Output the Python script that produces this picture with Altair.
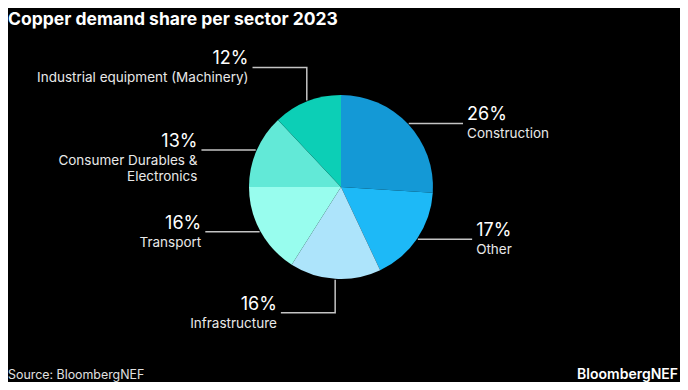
import math
import altair as alt
import pandas as pd

# ---- data ----
sectors = ["Construction", "Other", "Infrastructure", "Transport",
           "Consumer Durables & Electronics", "Industrial equipment (Machinery)"]
category_labels = ["Construction", "Other", "Infrastructure", "Transport",
                   "Consumer Durables &\nElectronics", "Industrial equipment (Machinery)"]
shares = [26, 17, 16, 16, 13, 12]
colors = ["#1499d6", "#1db9f7", "#ade4fb", "#98fdee", "#62e9d7", "#0ccfb6"]

title_text = "Copper demand share per sector 2023"
source_text = "Source: BloombergNEF"
brand_text = "BloombergNEF"

# ---- layout (pixels) ----
W, H = 672, 374
R = 92              # pie radius, px
CX, CY = 333, 179   # pie centre, px
EDGE = 1.01         # leader start, in radii
HLEN = 0.59         # horizontal leader length, in radii
VLEN = 0.36         # vertical leader length (near-vertical slices), in radii

xs = alt.Scale(domain=[-CX / R, (W - CX) / R], nice=False, zero=False)
ys = alt.Scale(domain=[-(H - CY) / R, CY / R], nice=False, zero=False)

pie_df = pd.DataFrame({"sector": sectors, "share": shares, "idx": list(range(len(sectors)))})

# leader lines from mid-angle of each slice
line_rows, lab_rows = [], []
total = sum(shares)
cum = 0
for s, lab, v in zip(sectors, category_labels, shares):
    mid = (cum + v / 2) / total * 2 * math.pi
    cum += v
    sx, sy = math.sin(mid), math.cos(mid)
    x0, y0 = EDGE * sx, EDGE * sy
    pts = [(x0, y0)]
    side = 1 if sx >= 0 else -1
    if abs(sx) < 0.5:
        y1 = y0 + (VLEN if sy > 0 else -VLEN)
        pts.append((x0, y1))
        y0 = y1
    x_end = x0 + side * HLEN
    pts.append((x_end, y0))
    for i, (px, py) in enumerate(pts):
        line_rows.append({"sector": s, "step": i, "x": px, "y": py})
    lab_rows.append({"sector": s, "pct": f"{v}%", "cat": lab, "x": x_end, "y": y0,
                     "side": "right" if side > 0 else "left"})

lines_df = pd.DataFrame(line_rows)
labels_df = pd.DataFrame(lab_rows)

pie = alt.Chart(pie_df).mark_arc(outerRadius=R).encode(
    theta=alt.Theta("share:Q", stack=True),
    order=alt.Order("idx:Q", sort="ascending"),
    color=alt.Color("sector:N", scale=alt.Scale(domain=sectors, range=colors), legend=None),
    x=alt.value(CX), y=alt.value(CY),
)

leaders = alt.Chart(lines_df).mark_line(strokeWidth=1.5, color="#c4c4c4").encode(
    x=alt.X("x:Q", scale=xs, axis=None),
    y=alt.Y("y:Q", scale=ys, axis=None),
    detail="sector:N",
    order="step:Q",
)

def label_layers(side, align, dx):
    base = alt.Chart(labels_df).transform_filter(alt.datum.side == side).encode(
        x=alt.X("x:Q", scale=xs, axis=None),
        y=alt.Y("y:Q", scale=ys, axis=None),
    )
    pct = base.mark_text(align=align, baseline="alphabetic", dx=dx, dy=-3,
                         font="Inter", fontSize=18, color="white").encode(text="pct:N")
    cat = base.mark_text(align=align, baseline="alphabetic", dx=dx, dy=15,
                         font="Inter", fontSize=13.5, color="#e8e8e8",
                         lineBreak="\n", lineHeight=16).encode(text="cat:N")
    return [pct, cat]

texts_df = pd.DataFrame({"t": [title_text]})
title = alt.Chart(texts_df).mark_text(
    align="left", baseline="alphabetic", font="Inter", fontSize=17.5,
    fontWeight="bold", color="white").encode(text="t:N", x=alt.value(0), y=alt.value(17))

src = alt.Chart(pd.DataFrame({"t": [source_text]})).mark_text(
    align="left", baseline="alphabetic", font="Inter", fontSize=12.4,
    color="#e0e0e0").encode(text="t:N", x=alt.value(0), y=alt.value(371))

brand = alt.Chart(pd.DataFrame({"t": [brand_text]})).mark_text(
    align="right", baseline="alphabetic", font="Inter", fontSize=14,
    fontWeight=600, color="white").encode(text="t:N", x=alt.value(W - 2), y=alt.value(371))

chart = alt.layer(
    pie, leaders, *label_layers("right", "left", 4), *label_layers("left", "right", -4),
    title, src, brand,
).properties(
    width=W, height=H, background="black", padding=0,
    autosize=alt.AutoSizeParams(type="none"),
).configure_view(stroke=None)

chart.save("out.html", embed_options={"renderer": "svg", "actions": False})
